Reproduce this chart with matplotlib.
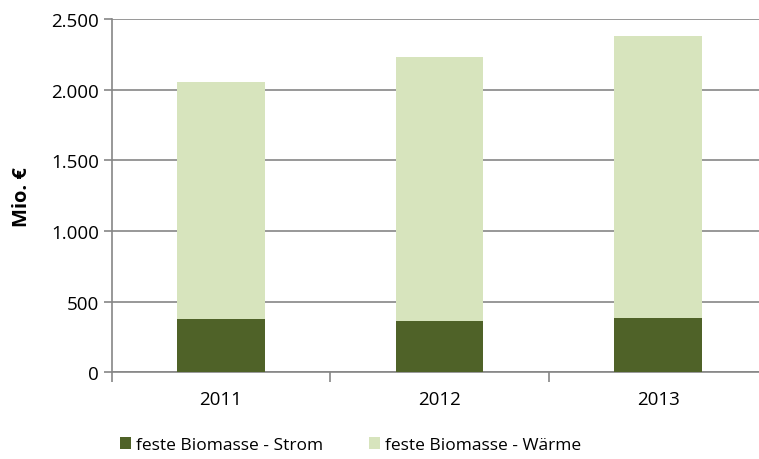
import matplotlib

matplotlib.use("Agg")
import matplotlib.pyplot as plt
import numpy as np

years = ["2011", "2012", "2013"]
strom = [377, 363, 382]
waerme = [1679, 1868, 1995]
yticks = [0, 500, 1000, 1500, 2000, 2500]
ytick_labels = ["0", "500", "1.000", "1.500", "2.000", "2.500"]

plt.rcParams["font.family"] = ["Open Sans", "DejaVu Sans"]

fig = plt.figure(figsize=(7.59, 4.60), dpi=100)
ax = fig.add_axes([0.1472, 0.1884, 0.864, 0.768])

x = np.arange(len(years))
grid_col = "#868686"
ax.bar(x, strom, width=0.4, color="#4F6228", label="feste Biomasse - Strom", zorder=3)
ax.bar(x, waerme, width=0.4, bottom=strom, color="#D7E4BD", label="feste Biomasse - Wärme", zorder=3)

ax.set_xlim(-0.5, 2.5)
ax.set_ylim(0, 2500)
ax.set_yticks(yticks)
ax.set_yticklabels(ytick_labels)
ax.set_xticks(x)
ax.set_xticklabels(years)
ax.set_xticks([-0.5, 0.5, 1.5, 2.5], minor=True)
ax.tick_params(axis="x", which="major", length=0, pad=13, labelsize=13.5)
ax.tick_params(axis="x", which="minor", length=7, color=grid_col, width=1.2)
ax.tick_params(axis="y", length=6, color=grid_col, width=1.2, labelsize=13.5, pad=3)

ax.yaxis.grid(True, color=grid_col, linewidth=1.2, zorder=0)
for s in ["top", "right"]:
    ax.spines[s].set_visible(False)
ax.spines["left"].set_color(grid_col)
ax.spines["left"].set_linewidth(1.2)
ax.spines["bottom"].set_color(grid_col)
ax.spines["bottom"].set_linewidth(1.2)

ax.set_ylabel("Mio. €", fontsize=14.5, fontweight="bold", labelpad=14)

fig.legend(loc="center", bbox_to_anchor=(0.462, 0.03), ncol=2, frameon=False,
           fontsize=12.5, handlelength=0.65, handleheight=0.65, handletextpad=0.3,
           columnspacing=2.6, borderpad=0.2)

fig.savefig("out.png", dpi=100)
